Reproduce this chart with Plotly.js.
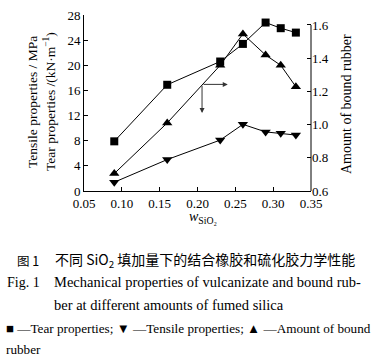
<!DOCTYPE html>
<html>
<head>
<meta charset="utf-8">
<script src="https://cdn.plot.ly/plotly-3.0.1.min.js"></script>
<style>
html,body{margin:0;padding:0;background:#fff;}
#chart{width:386px;height:360px;}
</style>
</head>
<body>
<div id="chart"></div>
<script>
// Data
var silica = [0.09, 0.16, 0.23, 0.26, 0.29, 0.31, 0.33];
var tear = [7.9, 16.9, 20.6, 23.4, 26.8, 25.9, 25.2];
var tensile = [1.4, 5.0, 8.1, 10.6, 9.4, 9.2, 8.9];
var boundRubber = [0.705, 1.01, 1.357, 1.546, 1.419, 1.357, 1.228];
var xTicks = [0.05, 0.10, 0.15, 0.20, 0.25, 0.30, 0.35];
var leftTicks = [0, 4, 8, 12, 16, 20, 24, 28];
var rightTicks = [0.6, 0.8, 1.0, 1.2, 1.4, 1.6];

var serif = 'Liberation Serif';
var cjk = 'Noto Sans CJK SC';

var traces = [
  {x: silica, y: tear, type: 'scatter', mode: 'lines+markers', name: 'Tear',
   line: {color: '#000', width: 1}, marker: {symbol: 'square', size: 8, color: '#000'}},
  {x: silica, y: tensile, type: 'scatter', mode: 'lines+markers', name: 'Tensile',
   line: {color: '#000', width: 1}, marker: {symbol: 'triangle-down', size: 9, color: '#000'}},
  {x: silica, y: boundRubber, type: 'scatter', mode: 'lines+markers', name: 'Bound rubber', yaxis: 'y2',
   line: {color: '#000', width: 1}, marker: {symbol: 'triangle-up', size: 9, color: '#000'}}
];

function px2x(px){ return (px - 84) / 227; }
function px2y(py){ return (191 - py) / 176; }

var annotations = [
  {xref:'paper', yref:'paper', x: px2x(33), y: px2y(102), text: 'Tensile properties / MPa', textangle: -90,
   showarrow:false, font:{family: serif, size: 13.5, color:'#000'}, xanchor:'center', yanchor:'middle'},
  {xref:'paper', yref:'paper', x: px2x(50), y: px2y(102), text: 'Tear properties /(kN·m<sup>−1</sup>)', textangle: -90,
   showarrow:false, font:{family: serif, size: 13.5, color:'#000'}, xanchor:'center', yanchor:'middle'},
  {xref:'paper', yref:'paper', x: px2x(347), y: px2y(104), text: 'Amount of bound rubber', textangle: -90,
   showarrow:false, font:{family: serif, size: 14, color:'#000'}, xanchor:'center', yanchor:'middle'},
  {xref:'paper', yref:'paper', x: px2x(203), y: px2y(217), text: '<i>w</i><sub>SiO₂</sub>',
   showarrow:false, font:{family: serif, size: 14, color:'#000'}, xanchor:'center', yanchor:'middle'},
  // arrows
  {xref:'x', yref:'y', axref:'x', ayref:'y', x: 0.240, y: 16.96, ax: 0.206, ay: 16.96, text:'',
   showarrow:true, arrowhead:2, arrowsize:1, arrowwidth:1, arrowcolor:'#333'},
  {xref:'x', yref:'y', axref:'x', ayref:'y', x: 0.206, y: 12.4, ax: 0.206, ay: 16.96, text:'',
   showarrow:true, arrowhead:2, arrowsize:1, arrowwidth:1, arrowcolor:'#333'},
  // captions
  {xref:'paper', yref:'paper', x: px2x(15), y: px2y(260), text: '图 1', showarrow:false,
   font:{family: cjk, size: 12.5, color:'#000'}, xanchor:'left', yanchor:'middle'},
  {xref:'paper', yref:'paper', x: px2x(53), y: px2y(260), text: '不同 SiO<sub>2</sub> 填加量下的结合橡胶和硫化胶力学性能', showarrow:false,
   font:{family: cjk, size: 14, color:'#000'}, xanchor:'left', yanchor:'middle'},
  {xref:'paper', yref:'paper', x: px2x(5), y: px2y(282), text: 'Fig. 1', showarrow:false,
   font:{family: serif, size: 14, color:'#000'}, xanchor:'left', yanchor:'middle'},
  {xref:'paper', yref:'paper', x: px2x(52), y: px2y(282), text: 'Mechanical properties of vulcanizate and bound rub-', showarrow:false,
   font:{family: serif, size: 14.5, color:'#000'}, xanchor:'left', yanchor:'middle'},
  {xref:'paper', yref:'paper', x: px2x(52), y: px2y(305), text: 'ber at different amounts of fumed silica', showarrow:false,
   font:{family: serif, size: 14.5, color:'#000'}, xanchor:'left', yanchor:'middle'},
  {xref:'paper', yref:'paper', x: px2x(4), y: px2y(328), text: '■ —Tear properties; ▼ —Tensile properties; ▲ —Amount of bound', showarrow:false,
   font:{family: serif, size: 13.2, color:'#000'}, xanchor:'left', yanchor:'middle'},
  {xref:'paper', yref:'paper', x: px2x(4), y: px2y(349), text: 'rubber', showarrow:false,
   font:{family: serif, size: 13.2, color:'#000'}, xanchor:'left', yanchor:'middle'}
];

var shapes = [
  {type:'line', xref:'paper', yref:'y2', x0:1, x1:1, y0:0.6, y1:1.6, line:{color:'#000', width:1}}
];

var layout = {
  width: 386, height: 360,
  margin: {l: 84, r: 75, t: 15, b: 169, pad: 0},
  paper_bgcolor: '#fff', plot_bgcolor: '#fff',
  showlegend: false,
  font: {family: serif, size: 13, color: '#000'},
  xaxis: {range: [0.05, 0.35], tickvals: xTicks, ticktext: xTicks.map(function(v){return v.toFixed(2);}),
    showgrid: false, zeroline: false, showline: true, linecolor: '#000', linewidth: 1,
    ticks: 'inside', ticklen: 4, tickcolor: '#000', tickfont: {family: serif, size: 13}},
  yaxis: {range: [0, 28], tickvals: leftTicks, showgrid: false, zeroline: false, showline: true,
    linecolor: '#000', linewidth: 1, ticks: 'inside', ticklen: 4, tickcolor: '#000',
    tickfont: {family: serif, size: 13}},
  yaxis2: {range: [0.6, 1.6 + 0.06], overlaying: 'y', side: 'right', tickvals: rightTicks,
    ticktext: rightTicks.map(function(v){return v.toFixed(1);}),
    showgrid: false, zeroline: false, showline: false, ticks: 'inside', ticklen: 4, tickcolor: '#000',
    tickfont: {family: serif, size: 13}},
  annotations: annotations,
  shapes: shapes
};

Plotly.newPlot('chart', traces, layout, {staticPlot: true, displayModeBar: false});
</script>
</body>
</html>
